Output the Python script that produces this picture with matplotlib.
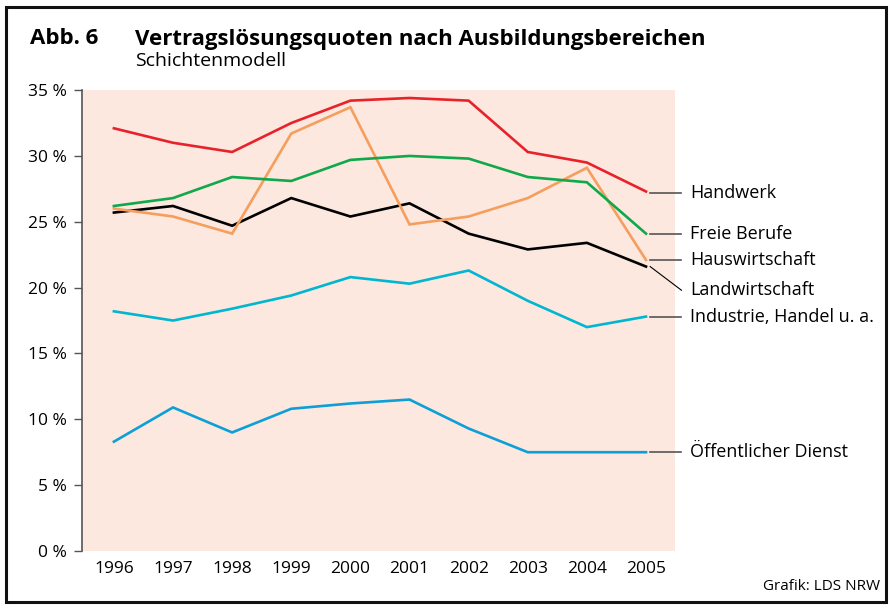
import matplotlib
matplotlib.use('Agg')
import matplotlib.pyplot as plt
from matplotlib.patches import Rectangle

plt.rcParams['font.family'] = ['Open Sans', 'DejaVu Sans']

years = [1996, 1997, 1998, 1999, 2000, 2001, 2002, 2003, 2004, 2005]

handwerk = [32.1, 31.0, 30.3, 32.5, 34.2, 34.4, 34.2, 30.3, 29.5, 27.3]
hauswirtschaft = [26.0, 25.4, 24.1, 31.7, 33.7, 24.8, 25.4, 26.8, 29.1, 22.1]
freie_berufe = [26.2, 26.8, 28.4, 28.1, 29.7, 30.0, 29.8, 28.4, 28.0, 24.1]
landwirtschaft = [25.7, 26.2, 24.7, 26.8, 25.4, 26.4, 24.1, 22.9, 23.4, 21.6]
industrie = [18.2, 17.5, 18.4, 19.4, 20.8, 20.3, 21.3, 19.0, 17.0, 17.8]
oeffentlich = [8.3, 10.9, 9.0, 10.8, 11.2, 11.5, 9.3, 7.5, 7.5, 7.5]

series_names = ['Handwerk', 'Freie Berufe', 'Hauswirtschaft', 'Landwirtschaft',
                'Industrie, Handel u. a.', 'Öffentlicher Dienst']
series_values = [handwerk, freie_berufe, hauswirtschaft, landwirtschaft,
                 industrie, oeffentlich]
series_colors = ['#e8222b', '#0fa84b', '#f59e5e', '#000000', '#00b6d1', '#0c9fd8']
label_y = [27.2, 24.1, 22.1, 19.8, 17.8, 7.5]

yticks = [0, 5, 10, 15, 20, 25, 30, 35]
ytick_labels = [f'{v} %' for v in yticks]

# draw order: bottom lines first
draw_order = [5, 4, 3, 2, 1, 0]

fig = plt.figure(figsize=(8.9, 6.08), dpi=100)
ax = fig.add_axes([0.0921, 0.0938, 0.6663, 0.758])
ax.set_facecolor('#fce8de')

for i in draw_order:
    ax.plot(years, series_values[i], color=series_colors[i], lw=1.9,
            solid_joinstyle='miter', zorder=3)

# leader lines + labels
for name, val, ly in zip(series_names, [s[-1] for s in series_values], label_y):
    col = '#000000' if name == 'Landwirtschaft' else '#555555'
    lw = 0.8 if name == 'Landwirtschaft' else 1.2
    ax.plot([2005.07, 2005.6], [val if name == 'Landwirtschaft' else ly, ly],
            color=col, lw=lw, clip_on=False, zorder=2)
    ax.text(2005.74, ly, name, fontsize=13, va='center', ha='left')

ax.set_xlim(1995.46, 2005.49)
ax.set_ylim(0, 35)
ax.set_yticks(yticks)
ax.set_yticklabels(ytick_labels, fontsize=12.5)
ax.set_xticks(years)
ax.set_xticklabels([str(y) for y in years], fontsize=12.5)
ax.tick_params(axis='x', length=0, pad=7)
ax.tick_params(axis='y', length=6, width=1, color='#555555', pad=5)
for s in ['top', 'right', 'bottom']:
    ax.spines[s].set_visible(False)
ax.spines['left'].set_color('#555555')
ax.spines['left'].set_linewidth(1.2)

fig.text(30 / 890, 1 - 39 / 608, 'Abb. 6', fontsize=16, fontweight='bold', va='center')
fig.text(135 / 890, 1 - 39 / 608, 'Vertragslösungsquoten nach Ausbildungsbereichen',
         fontsize=16, fontweight='bold', va='center')
fig.text(135 / 890, 1 - 61 / 608, 'Schichtenmodell', fontsize=14, va='center')
fig.text(880 / 890, 1 - 586 / 608, 'Grafik: LDS NRW', fontsize=11, ha='right', va='center')

fig.patches.append(Rectangle((6 / 890, 6 / 608), 880 / 890, 595 / 608,
                             transform=fig.transFigure, fill=False,
                             edgecolor='#111111', lw=2.2))

fig.savefig('out.png', dpi=100)
